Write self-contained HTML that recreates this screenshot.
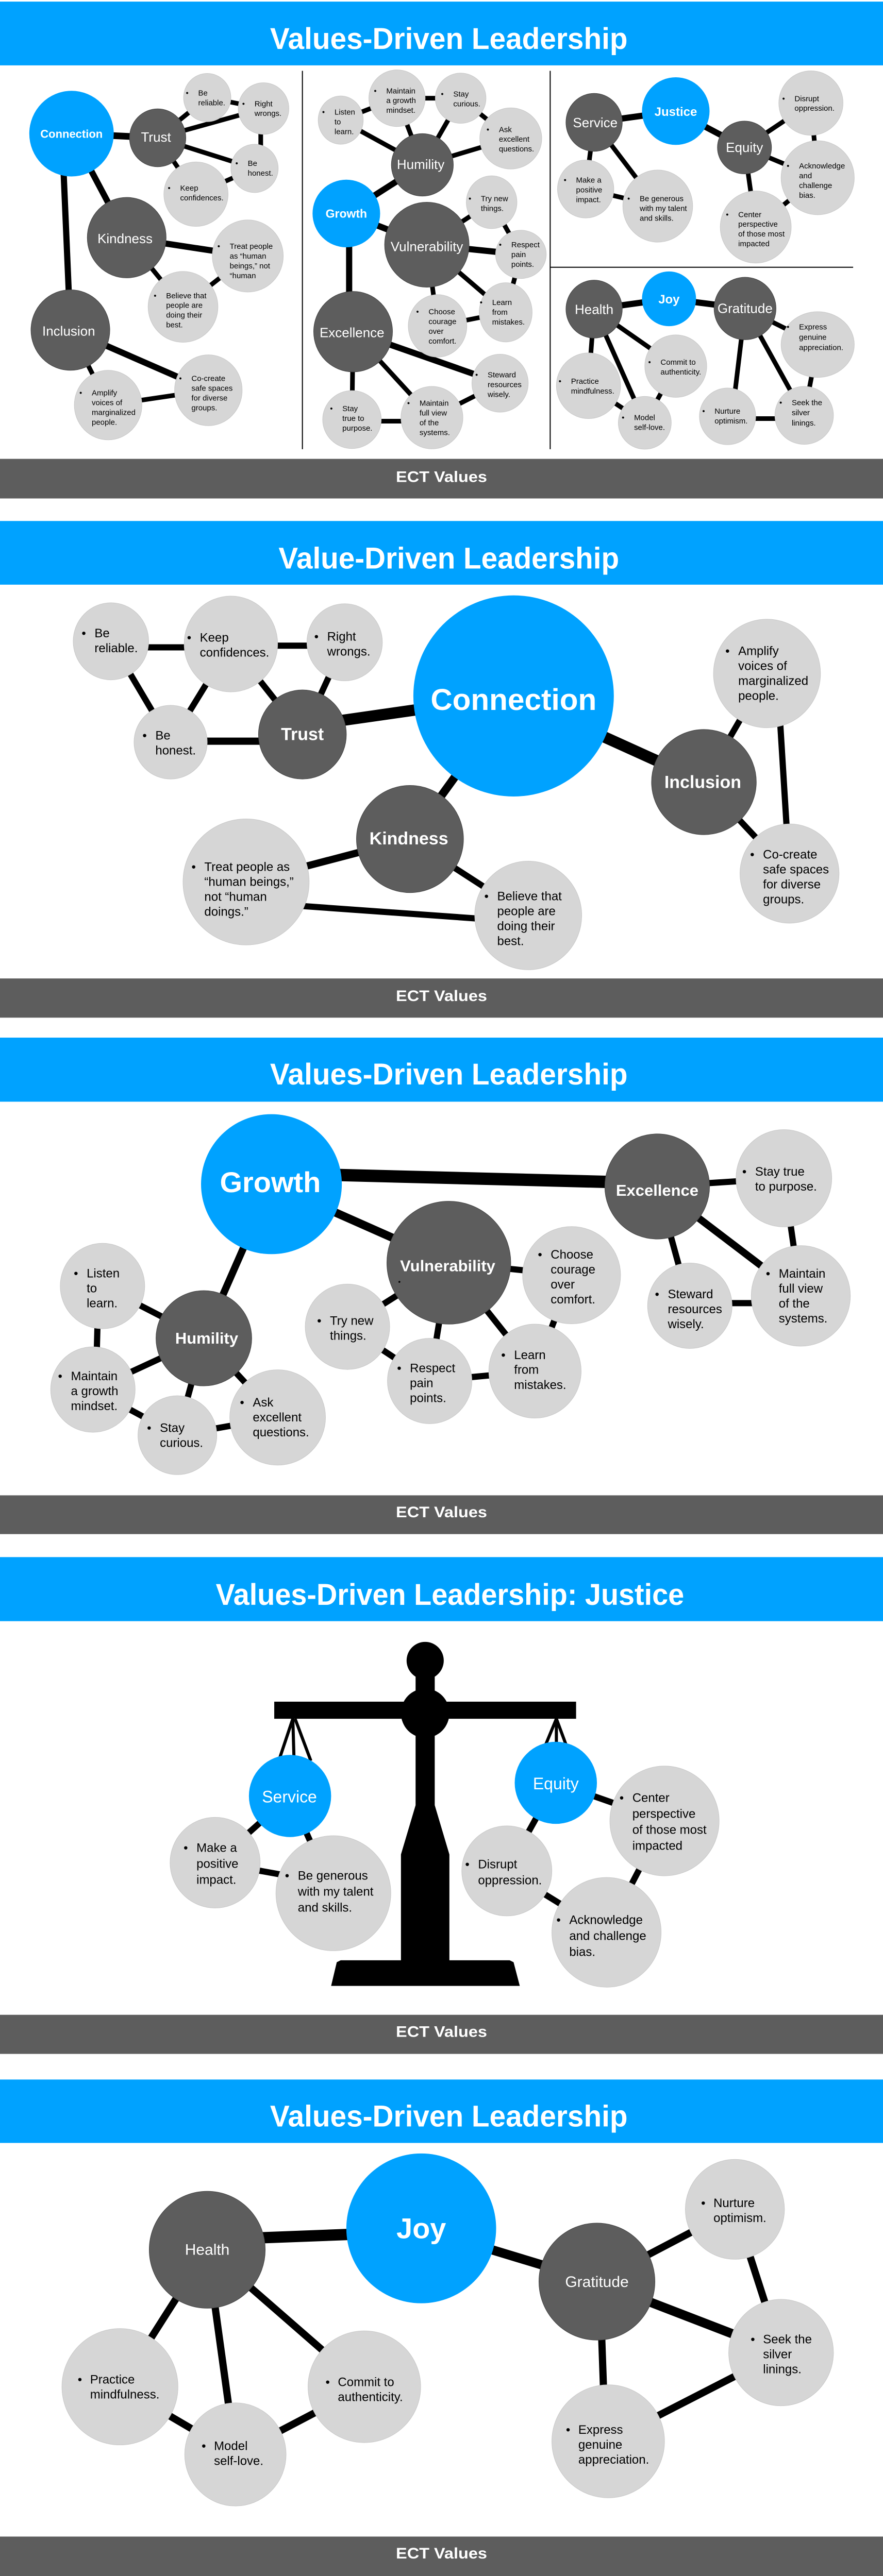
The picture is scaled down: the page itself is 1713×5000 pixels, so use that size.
<!DOCTYPE html>
<html><head><meta charset="utf-8"><style>
html,body{margin:0;padding:0;background:#fff}
body{width:1713px;height:5000px;position:relative;overflow:hidden;font-family:"Liberation Sans",Arial,sans-serif}
svg.p{position:absolute;left:0;width:1713px}
.l{fill:#d6d6d6;stroke:#c8c8c8;stroke-width:1;vector-effect:non-scaling-stroke}
.d{fill:#5d5d5d;stroke:#444;stroke-width:1;vector-effect:non-scaling-stroke}
.b{fill:#00a2ff}
.k line{stroke:#000;vector-effect:non-scaling-stroke}
text{font-family:"Liberation Sans",Arial,sans-serif}
.t{fill:#000}
.w{fill:#fff;text-anchor:middle}
.h{fill:#fff;font-weight:bold;text-anchor:middle}
</style></head><body>

<!-- PANEL 1 -->
<svg class="p" style="top:0;height:980px" viewBox="0 0 1568 1568" preserveAspectRatio="none">
<rect x="0" y="5" width="1568" height="198" fill="#00a2ff"/>
<g transform="translate(797,152) scale(0.915,1.6)"><text class="h" font-size="58" textLength="694" lengthAdjust="spacingAndGlyphs" x="0" y="0">Values-Driven Leadership</text></g>
<g class="k"><line x1="537" y1="220" x2="537" y2="1395" stroke-width="2"/><line x1="977" y1="220" x2="977" y2="1395" stroke-width="2"/><line x1="977" y1="830" x2="1515" y2="830" stroke-width="2"/></g>
<g class="k" stroke-width="9">
<line x1="127" y1="415" x2="280" y2="428" stroke-width="13"/>
<line x1="280" y1="428" x2="368" y2="303"/><line x1="280" y1="428" x2="468" y2="337"/><line x1="280" y1="428" x2="452" y2="523"/><line x1="280" y1="428" x2="348" y2="603"/>
<line x1="368" y1="303" x2="468" y2="337"/><line x1="463" y1="337" x2="463" y2="523"/><line x1="452" y1="523" x2="348" y2="603"/>
<line x1="127" y1="415" x2="225" y2="738" stroke-width="12"/><line x1="110" y1="415" x2="125" y2="1025" stroke-width="12"/>
<line x1="225" y1="738" x2="440" y2="795" stroke-width="12"/><line x1="225" y1="738" x2="325" y2="953"/><line x1="440" y1="795" x2="325" y2="953"/>
<line x1="125" y1="1025" x2="370" y2="1212" stroke-width="12"/><line x1="125" y1="1025" x2="192" y2="1258"/><line x1="192" y1="1258" x2="370" y2="1212"/>
<line x1="605" y1="373" x2="750" y2="512"/><line x1="705" y1="305" x2="750" y2="512"/><line x1="818" y1="305" x2="750" y2="512"/><line x1="907" y1="430" x2="750" y2="512"/>
<line x1="605" y1="373" x2="705" y2="305"/><line x1="705" y1="305" x2="818" y2="305"/><line x1="818" y1="305" x2="907" y2="430"/>
<line x1="750" y1="512" x2="615" y2="663" stroke-width="12"/><line x1="615" y1="663" x2="758" y2="760" stroke-width="12"/><line x1="620" y1="663" x2="620" y2="1030" stroke-width="12"/>
<line x1="758" y1="760" x2="873" y2="628"/><line x1="758" y1="760" x2="925" y2="790" stroke-width="12"/><line x1="758" y1="760" x2="898" y2="970"/><line x1="758" y1="760" x2="777" y2="1012"/>
<line x1="873" y1="628" x2="925" y2="790"/><line x1="925" y1="790" x2="898" y2="970"/><line x1="898" y1="970" x2="777" y2="1012"/>
<line x1="627" y1="1030" x2="888" y2="1190" stroke-width="12"/><line x1="627" y1="1030" x2="767" y2="1297"/><line x1="627" y1="1030" x2="625" y2="1303"/>
<line x1="625" y1="1308" x2="767" y2="1308"/><line x1="767" y1="1297" x2="888" y2="1190"/>
<line x1="1055" y1="380" x2="1200" y2="345" stroke-width="12"/><line x1="1200" y1="345" x2="1322" y2="458" stroke-width="12"/>
<line x1="1322" y1="458" x2="1440" y2="320"/><line x1="1322" y1="458" x2="1452" y2="552"/><line x1="1322" y1="458" x2="1342" y2="705"/>
<line x1="1440" y1="320" x2="1452" y2="552"/><line x1="1452" y1="552" x2="1342" y2="705"/>
<line x1="1055" y1="380" x2="1040" y2="587"/><line x1="1055" y1="380" x2="1168" y2="640"/><line x1="1040" y1="587" x2="1168" y2="640"/>
<line x1="1055" y1="960" x2="1188" y2="928" stroke-width="12"/><line x1="1188" y1="928" x2="1323" y2="958" stroke-width="12"/>
<line x1="1055" y1="960" x2="1200" y2="1137"/><line x1="1055" y1="960" x2="1045" y2="1198"/><line x1="1055" y1="960" x2="1145" y2="1313"/>
<line x1="1200" y1="1137" x2="1145" y2="1313"/><line x1="1045" y1="1198" x2="1145" y2="1313"/>
<line x1="1323" y1="958" x2="1452" y2="1070"/><line x1="1323" y1="958" x2="1300" y2="1293"/><line x1="1323" y1="958" x2="1428" y2="1290"/>
<line x1="1292" y1="1300" x2="1428" y2="1300"/><line x1="1452" y1="1070" x2="1428" y2="1290"/>
</g>
<ellipse class="b" cx="127" cy="415" rx="75" ry="133"/><ellipse class="d" cx="280" cy="428" rx="50" ry="90"/>
<ellipse class="l" cx="368" cy="303" rx="42" ry="75"/><ellipse class="l" cx="468" cy="337" rx="45" ry="80"/><ellipse class="l" cx="452" cy="523" rx="42" ry="75"/><ellipse class="l" cx="348" cy="603" rx="57" ry="100"/>
<ellipse class="d" cx="225" cy="738" rx="70" ry="125"/><ellipse class="l" cx="440" cy="795" rx="63" ry="112"/><ellipse class="l" cx="325" cy="953" rx="62" ry="110"/>
<ellipse class="d" cx="125" cy="1025" rx="70" ry="125"/><ellipse class="l" cx="370" cy="1212" rx="60" ry="110"/><ellipse class="l" cx="192" cy="1258" rx="60" ry="108"/>
<ellipse class="l" cx="605" cy="373" rx="40" ry="75"/><ellipse class="l" cx="705" cy="305" rx="50" ry="88"/><ellipse class="l" cx="818" cy="305" rx="45" ry="78"/><ellipse class="l" cx="907" cy="430" rx="55" ry="95"/>
<ellipse class="d" cx="750" cy="512" rx="55" ry="97"/><ellipse class="b" cx="615" cy="663" rx="60" ry="105"/><ellipse class="l" cx="873" cy="628" rx="45" ry="82"/>
<ellipse class="d" cx="758" cy="760" rx="75" ry="132"/><ellipse class="l" cx="925" cy="790" rx="45" ry="75"/><ellipse class="l" cx="898" cy="970" rx="47" ry="92"/><ellipse class="l" cx="777" cy="1012" rx="52" ry="97"/>
<ellipse class="d" cx="627" cy="1030" rx="70" ry="125"/><ellipse class="l" cx="888" cy="1190" rx="50" ry="90"/><ellipse class="l" cx="767" cy="1297" rx="55" ry="97"/><ellipse class="l" cx="625" cy="1303" rx="52" ry="90"/>
<ellipse class="d" cx="1055" cy="380" rx="50" ry="90"/><ellipse class="b" cx="1200" cy="345" rx="60" ry="105"/><ellipse class="l" cx="1440" cy="320" rx="57" ry="100"/>
<ellipse class="d" cx="1322" cy="458" rx="48" ry="82"/><ellipse class="l" cx="1452" cy="552" rx="65" ry="115"/><ellipse class="l" cx="1342" cy="705" rx="63" ry="112"/>
<ellipse class="l" cx="1040" cy="587" rx="50" ry="90"/><ellipse class="l" cx="1168" cy="640" rx="62" ry="112"/>
<ellipse class="d" cx="1055" cy="960" rx="50" ry="90"/><ellipse class="b" cx="1188" cy="928" rx="48" ry="85"/><ellipse class="d" cx="1323" cy="958" rx="55" ry="97"/>
<ellipse class="l" cx="1452" cy="1070" rx="65" ry="102"/><ellipse class="l" cx="1200" cy="1137" rx="55" ry="97"/><ellipse class="l" cx="1045" cy="1198" rx="57" ry="102"/>
<ellipse class="l" cx="1145" cy="1313" rx="47" ry="82"/><ellipse class="l" cx="1292" cy="1293" rx="50" ry="88"/><ellipse class="l" cx="1428" cy="1290" rx="52" ry="90"/>
<!-- labels -->
<g transform="translate(127,428) scale(0.915,1.6)"><text class="h" font-size="22">Connection</text></g>
<g transform="translate(277,440) scale(0.915,1.6)"><text class="w" font-size="26">Trust</text></g>
<g transform="translate(222,755) scale(0.915,1.6)"><text class="w" font-size="26">Kindness</text></g>
<g transform="translate(122,1042) scale(0.915,1.6)"><text class="w" font-size="26">Inclusion</text></g>
<g transform="translate(747,525) scale(0.915,1.6)"><text class="w" font-size="26">Humility</text></g>
<g transform="translate(615,676) scale(0.915,1.6)"><text class="h" font-size="23">Growth</text></g>
<g transform="translate(758,780) scale(0.915,1.6)"><text class="w" font-size="26">Vulnerability</text></g>
<g transform="translate(625,1047) scale(0.915,1.6)"><text class="w" font-size="26">Excellence</text></g>
<g transform="translate(1057,395) scale(0.915,1.6)"><text class="w" font-size="26">Service</text></g>
<g transform="translate(1200,360) scale(0.915,1.6)"><text class="h" font-size="24">Justice</text></g>
<g transform="translate(1322,472) scale(0.915,1.6)"><text class="w" font-size="26">Equity</text></g>
<g transform="translate(1055,975) scale(0.915,1.6)"><text class="w" font-size="26">Health</text></g>
<g transform="translate(1188,942) scale(0.915,1.6)"><text class="h" font-size="24">Joy</text></g>
<g transform="translate(1323,972) scale(0.915,1.6)"><text class="w" font-size="26">Gratitude</text></g>
<!-- bullets -->
<g font-size="15" class="t">
<g transform="translate(330,297) scale(0.915,1.6)"><text><tspan x="0" y="0">•</tspan><tspan x="24" y="0">Be</tspan><tspan x="24" dy="19">reliable.</tspan></text></g>
<g transform="translate(430,330) scale(0.915,1.6)"><text><tspan x="0" y="0">•</tspan><tspan x="24" y="0">Right</tspan><tspan x="24" dy="19">wrongs.</tspan></text></g>
<g transform="translate(418,515) scale(0.915,1.6)"><text><tspan x="0" y="0">•</tspan><tspan x="24" y="0">Be</tspan><tspan x="24" dy="19">honest.</tspan></text></g>
<g transform="translate(298,592) scale(0.915,1.6)"><text><tspan x="0" y="0">•</tspan><tspan x="24" y="0">Keep</tspan><tspan x="24" dy="19">confidences.</tspan></text></g>
<g transform="translate(386,773) scale(0.915,1.6)"><text><tspan x="0" y="0">•</tspan><tspan x="24" y="0">Treat people</tspan><tspan x="24" dy="19">as “human</tspan><tspan x="24" dy="19">beings,” not</tspan><tspan x="24" dy="19">“human</tspan></text></g>
<g transform="translate(273,926) scale(0.915,1.6)"><text><tspan x="0" y="0">•</tspan><tspan x="24" y="0">Believe that</tspan><tspan x="24" dy="19">people are</tspan><tspan x="24" dy="19">doing their</tspan><tspan x="24" dy="19">best.</tspan></text></g>
<g transform="translate(318,1183) scale(0.915,1.6)"><text><tspan x="0" y="0">•</tspan><tspan x="24" y="0">Co-create</tspan><tspan x="24" dy="19">safe spaces</tspan><tspan x="24" dy="19">for diverse</tspan><tspan x="24" dy="19">groups.</tspan></text></g>
<g transform="translate(141,1228) scale(0.915,1.6)"><text><tspan x="0" y="0">•</tspan><tspan x="24" y="0">Amplify</tspan><tspan x="24" dy="19">voices of</tspan><tspan x="24" dy="19">marginalized</tspan><tspan x="24" dy="19">people.</tspan></text></g>
<g transform="translate(572,356) scale(0.915,1.6)"><text><tspan x="0" y="0">•</tspan><tspan x="24" y="0">Listen</tspan><tspan x="24" dy="19">to</tspan><tspan x="24" dy="19">learn.</tspan></text></g>
<g transform="translate(664,290) scale(0.915,1.6)"><text><tspan x="0" y="0">•</tspan><tspan x="24" y="0">Maintain</tspan><tspan x="24" dy="19">a growth</tspan><tspan x="24" dy="19">mindset.</tspan></text></g>
<g transform="translate(783,300) scale(0.915,1.6)"><text><tspan x="0" y="0">•</tspan><tspan x="24" y="0">Stay</tspan><tspan x="24" dy="19">curious.</tspan></text></g>
<g transform="translate(864,410) scale(0.915,1.6)"><text><tspan x="0" y="0">•</tspan><tspan x="24" y="0">Ask</tspan><tspan x="24" dy="19">excellent</tspan><tspan x="24" dy="19">questions.</tspan></text></g>
<g transform="translate(832,625) scale(0.915,1.6)"><text><tspan x="0" y="0">•</tspan><tspan x="24" y="0">Try new</tspan><tspan x="24" dy="19">things.</tspan></text></g>
<g transform="translate(886,768) scale(0.915,1.6)"><text><tspan x="0" y="0">•</tspan><tspan x="24" y="0">Respect</tspan><tspan x="24" dy="19">pain</tspan><tspan x="24" dy="19">points.</tspan></text></g>
<g transform="translate(852,947) scale(0.915,1.6)"><text><tspan x="0" y="0">•</tspan><tspan x="24" y="0">Learn</tspan><tspan x="24" dy="19">from</tspan><tspan x="24" dy="19">mistakes.</tspan></text></g>
<g transform="translate(739,976) scale(0.915,1.6)"><text><tspan x="0" y="0">•</tspan><tspan x="24" y="0">Choose</tspan><tspan x="24" dy="19">courage</tspan><tspan x="24" dy="19">over</tspan><tspan x="24" dy="19">comfort.</tspan></text></g>
<g transform="translate(844,1172) scale(0.915,1.6)"><text><tspan x="0" y="0">•</tspan><tspan x="24" y="0">Steward</tspan><tspan x="24" dy="19">resources</tspan><tspan x="24" dy="19">wisely.</tspan></text></g>
<g transform="translate(723,1260) scale(0.915,1.6)"><text><tspan x="0" y="0">•</tspan><tspan x="24" y="0">Maintain</tspan><tspan x="24" dy="19">full view</tspan><tspan x="24" dy="19">of the</tspan><tspan x="24" dy="19">systems.</tspan></text></g>
<g transform="translate(586,1277) scale(0.915,1.6)"><text><tspan x="0" y="0">•</tspan><tspan x="24" y="0">Stay</tspan><tspan x="24" dy="19">true to</tspan><tspan x="24" dy="19">purpose.</tspan></text></g>
<g transform="translate(1389,314) scale(0.915,1.6)"><text><tspan x="0" y="0">•</tspan><tspan x="24" y="0">Disrupt</tspan><tspan x="24" dy="19">oppression.</tspan></text></g>
<g transform="translate(1397,523) scale(0.915,1.6)"><text><tspan x="0" y="0">•</tspan><tspan x="24" y="0">Acknowledge</tspan><tspan x="24" dy="19">and</tspan><tspan x="24" dy="19">challenge</tspan><tspan x="24" dy="19">bias.</tspan></text></g>
<g transform="translate(1289,674) scale(0.915,1.6)"><text><tspan x="0" y="0">•</tspan><tspan x="24" y="0">Center</tspan><tspan x="24" dy="19">perspective</tspan><tspan x="24" dy="19">of those most</tspan><tspan x="24" dy="19">impacted</tspan></text></g>
<g transform="translate(1001,567) scale(0.915,1.6)"><text><tspan x="0" y="0">•</tspan><tspan x="24" y="0">Make a</tspan><tspan x="24" dy="19">positive</tspan><tspan x="24" dy="19">impact.</tspan></text></g>
<g transform="translate(1114,625) scale(0.915,1.6)"><text><tspan x="0" y="0">•</tspan><tspan x="24" y="0">Be generous</tspan><tspan x="24" dy="19">with my talent</tspan><tspan x="24" dy="19">and skills.</tspan></text></g>
<g transform="translate(1397,1023) scale(0.915,1.6)"><text><tspan x="0" y="0">•</tspan><tspan x="24" y="0">Express</tspan><tspan x="24" dy="20">genuine</tspan><tspan x="24" dy="20">appreciation.</tspan></text></g>
<g transform="translate(1151,1133) scale(0.915,1.6)"><text><tspan x="0" y="0">•</tspan><tspan x="24" y="0">Commit to</tspan><tspan x="24" dy="19">authenticity.</tspan></text></g>
<g transform="translate(992,1192) scale(0.915,1.6)"><text><tspan x="0" y="0">•</tspan><tspan x="24" y="0">Practice</tspan><tspan x="24" dy="19">mindfulness.</tspan></text></g>
<g transform="translate(1104,1305) scale(0.915,1.6)"><text><tspan x="0" y="0">•</tspan><tspan x="24" y="0">Model</tspan><tspan x="24" dy="19">self-love.</tspan></text></g>
<g transform="translate(1247,1285) scale(0.915,1.6)"><text><tspan x="0" y="0">•</tspan><tspan x="24" y="0">Nurture</tspan><tspan x="24" dy="19">optimism.</tspan></text></g>
<g transform="translate(1384,1258) scale(0.915,1.6)"><text><tspan x="0" y="0">•</tspan><tspan x="24" y="0">Seek the</tspan><tspan x="24" dy="20">silver</tspan><tspan x="24" dy="20">linings.</tspan></text></g>
</g>
<rect x="0" y="1425" width="1568" height="123" fill="#5d5d5d"/>
<g transform="translate(784,1497) scale(0.915,1.6)"><text class="h" font-size="30" textLength="177" lengthAdjust="spacingAndGlyphs" x="0" y="0">ECT Values</text></g>
</svg>

<!-- PANEL 2 -->
<svg class="p" style="top:980px;height:1020px" viewBox="0 0 1568 1568" preserveAspectRatio="none">
<rect x="0" y="48" width="1568" height="190" fill="#00a2ff"/>
<g transform="translate(797,190) scale(0.915,1.537)"><text class="h" font-size="58" textLength="661" lengthAdjust="spacingAndGlyphs" x="0" y="0">Value-Driven Leadership</text></g>
<g class="k" stroke-width="12">
<line x1="197" y1="425" x2="410" y2="425"/><line x1="410" y1="420" x2="612" y2="420"/>
<line x1="197" y1="407" x2="303" y2="708"/><line x1="410" y1="415" x2="303" y2="708"/>
<line x1="410" y1="415" x2="537" y2="685"/><line x1="612" y1="410" x2="537" y2="685"/><line x1="303" y1="705" x2="537" y2="705" stroke-width="14"/>
<line x1="537" y1="660" x2="912" y2="570" stroke-width="22"/><line x1="912" y1="570" x2="1250" y2="827" stroke-width="22"/>
<line x1="912" y1="570" x2="728" y2="997" stroke-width="16"/>
<line x1="1250" y1="827" x2="1362" y2="503"/><line x1="1250" y1="827" x2="1402" y2="1100"/><line x1="1380" y1="503" x2="1402" y2="1100"/>
<line x1="728" y1="997" x2="437" y2="1125" stroke-width="14"/><line x1="728" y1="997" x2="938" y2="1225"/><line x1="437" y1="1185" x2="938" y2="1245"/>
</g>
<ellipse class="l" cx="197" cy="407" rx="67" ry="115"/><ellipse class="l" cx="410" cy="415" rx="83" ry="143"/><ellipse class="l" cx="612" cy="410" rx="67" ry="115"/>
<ellipse class="l" cx="303" cy="708" rx="65" ry="110"/><ellipse class="d" cx="537" cy="685" rx="78" ry="133"/><ellipse class="b" cx="912" cy="570" rx="178" ry="300"/>
<ellipse class="d" cx="1250" cy="827" rx="93" ry="157"/><ellipse class="l" cx="1362" cy="503" rx="95" ry="162"/><ellipse class="l" cx="1402" cy="1100" rx="88" ry="148"/>
<ellipse class="d" cx="728" cy="997" rx="95" ry="160"/><ellipse class="l" cx="437" cy="1125" rx="112" ry="188"/><ellipse class="l" cx="938" cy="1225" rx="95" ry="162"/>
<g transform="translate(912,612) scale(0.915,1.537)"><text class="h" font-size="58" textLength="322" lengthAdjust="spacingAndGlyphs" x="0" y="0">Connection</text></g>
<g transform="translate(537,702) scale(0.915,1.537)"><text class="h" font-size="34">Trust</text></g>
<g transform="translate(726,1013) scale(0.915,1.537)"><text class="h" font-size="34">Kindness</text></g>
<g transform="translate(1248,845) scale(0.915,1.537)"><text class="h" font-size="34">Inclusion</text></g>
<g font-size="24" class="t">
<g transform="translate(145,395) scale(0.915,1.537)"><text><tspan x="0" y="0">•</tspan><tspan x="25" y="0">Be</tspan><tspan x="25" dy="29">reliable.</tspan></text></g>
<g transform="translate(332,408) scale(0.915,1.537)"><text><tspan x="0" y="0">•</tspan><tspan x="25" y="0">Keep</tspan><tspan x="25" dy="29">confidences.</tspan></text></g>
<g transform="translate(558,405) scale(0.915,1.537)"><text><tspan x="0" y="0">•</tspan><tspan x="25" y="0">Right</tspan><tspan x="25" dy="29">wrongs.</tspan></text></g>
<g transform="translate(253,700) scale(0.915,1.537)"><text><tspan x="0" y="0">•</tspan><tspan x="25" y="0">Be</tspan><tspan x="25" dy="29">honest.</tspan></text></g>
<g transform="translate(1288,448) scale(0.915,1.537)"><text><tspan x="0" y="0">•</tspan><tspan x="25" y="0">Amplify</tspan><tspan x="25" dy="29">voices of</tspan><tspan x="25" dy="29">marginalized</tspan><tspan x="25" dy="29">people.</tspan></text></g>
<g transform="translate(1332,1055) scale(0.915,1.537)"><text><tspan x="0" y="0">•</tspan><tspan x="25" y="0">Co-create</tspan><tspan x="25" dy="29">safe spaces</tspan><tspan x="25" dy="29">for diverse</tspan><tspan x="25" dy="29">groups.</tspan></text></g>
<g transform="translate(340,1092) scale(0.915,1.537)"><text><tspan x="0" y="0">•</tspan><tspan x="25" y="0">Treat people as</tspan><tspan x="25" dy="29">“human beings,”</tspan><tspan x="25" dy="29">not “human</tspan><tspan x="25" dy="29">doings.”</tspan></text></g>
<g transform="translate(860,1180) scale(0.915,1.537)"><text><tspan x="0" y="0">•</tspan><tspan x="25" y="0">Believe that</tspan><tspan x="25" dy="29">people are</tspan><tspan x="25" dy="29">doing their</tspan><tspan x="25" dy="29">best.</tspan></text></g>
</g>
<rect x="0" y="1413" width="1568" height="117" fill="#5d5d5d"/>
<g transform="translate(784,1480) scale(0.915,1.537)"><text class="h" font-size="30" textLength="177" lengthAdjust="spacingAndGlyphs" x="0" y="0">ECT Values</text></g>
</svg>

<!-- PANEL 3 -->
<svg class="p" style="top:2000px;height:1000px" viewBox="0 0 1568 1568" preserveAspectRatio="none">
<rect x="0" y="22" width="1568" height="195" fill="#00a2ff"/>
<g transform="translate(797,165) scale(0.915,1.568)"><text class="h" font-size="58" textLength="694" lengthAdjust="spacingAndGlyphs" x="0" y="0">Values-Driven Leadership</text></g>
<g class="k" stroke-width="12">
<line x1="600" y1="440" x2="1167" y2="465" stroke-width="24"/>
<line x1="1167" y1="475" x2="1392" y2="450"/><line x1="1167" y1="475" x2="1422" y2="808" stroke-width="14"/><line x1="1167" y1="475" x2="1225" y2="838"/>
<line x1="1392" y1="450" x2="1422" y2="808"/><line x1="1225" y1="830" x2="1422" y2="830"/>
<line x1="482" y1="468" x2="797" y2="707" stroke-width="16"/>
<line x1="797" y1="707" x2="1015" y2="745"/><line x1="797" y1="707" x2="950" y2="1037"/><line x1="797" y1="707" x2="763" y2="1067"/><line x1="797" y1="707" x2="617" y2="902"/>
<line x1="1015" y1="745" x2="950" y2="1037"/><line x1="950" y1="1037" x2="763" y2="1067"/><line x1="617" y1="902" x2="763" y2="1067"/>
<line x1="482" y1="468" x2="362" y2="937" stroke-width="14"/>
<line x1="362" y1="937" x2="182" y2="778"/><line x1="362" y1="937" x2="165" y2="1093"/><line x1="362" y1="937" x2="315" y2="1232"/><line x1="362" y1="937" x2="493" y2="1178"/>
<line x1="175" y1="778" x2="170" y2="1093"/><line x1="165" y1="1093" x2="315" y2="1232"/><line x1="315" y1="1232" x2="493" y2="1178"/>
</g>
<ellipse class="b" cx="482" cy="468" rx="125" ry="213"/><ellipse class="d" cx="1167" cy="475" rx="93" ry="160"/>
<ellipse class="l" cx="1392" cy="450" rx="85" ry="148"/><ellipse class="l" cx="1422" cy="808" rx="88" ry="153"/><ellipse class="l" cx="1225" cy="838" rx="75" ry="130"/>
<ellipse class="d" cx="797" cy="707" rx="110" ry="187"/><ellipse class="l" cx="1015" cy="745" rx="87" ry="148"/><ellipse class="l" cx="950" cy="1037" rx="82" ry="143"/>
<ellipse class="l" cx="763" cy="1067" rx="75" ry="130"/><ellipse class="l" cx="617" cy="902" rx="75" ry="130"/>
<ellipse class="d" cx="362" cy="937" rx="85" ry="145"/><ellipse class="l" cx="182" cy="778" rx="75" ry="130"/><ellipse class="l" cx="165" cy="1093" rx="75" ry="130"/>
<ellipse class="l" cx="315" cy="1232" rx="70" ry="120"/><ellipse class="l" cx="493" cy="1178" rx="85" ry="145"/>
<g transform="translate(480,492) scale(0.915,1.568)"><text class="h" font-size="56">Growth</text></g>
<g transform="translate(795,733) scale(0.915,1.568)"><text class="h" font-size="31">Vulnerability</text></g>
<g transform="translate(707,772) scale(0.915,1.568)"><text class="t" font-size="14">•</text></g>
<g transform="translate(1167,503) scale(0.915,1.568)"><text class="h" font-size="31">Excellence</text></g>
<g transform="translate(367,953) scale(0.915,1.568)"><text class="h" font-size="31">Humility</text></g>
<g font-size="24" class="t">
<g transform="translate(131,752) scale(0.915,1.568)"><text><tspan x="0" y="0">•</tspan><tspan x="25" y="0">Listen</tspan><tspan x="25" dy="29">to</tspan><tspan x="25" dy="29">learn.</tspan></text></g>
<g transform="translate(103,1065) scale(0.915,1.568)"><text><tspan x="0" y="0">•</tspan><tspan x="25" y="0">Maintain</tspan><tspan x="25" dy="29">a growth</tspan><tspan x="25" dy="29">mindset.</tspan></text></g>
<g transform="translate(261,1222) scale(0.915,1.568)"><text><tspan x="0" y="0">•</tspan><tspan x="25" y="0">Stay</tspan><tspan x="25" dy="29">curious.</tspan></text></g>
<g transform="translate(426,1145) scale(0.915,1.568)"><text><tspan x="0" y="0">•</tspan><tspan x="25" y="0">Ask</tspan><tspan x="25" dy="29">excellent</tspan><tspan x="25" dy="29">questions.</tspan></text></g>
<g transform="translate(563,896) scale(0.915,1.568)"><text><tspan x="0" y="0">•</tspan><tspan x="25" y="0">Try new</tspan><tspan x="25" dy="29">things.</tspan></text></g>
<g transform="translate(705,1040) scale(0.915,1.568)"><text><tspan x="0" y="0">•</tspan><tspan x="25" y="0">Respect</tspan><tspan x="25" dy="29">pain</tspan><tspan x="25" dy="29">points.</tspan></text></g>
<g transform="translate(890,1000) scale(0.915,1.568)"><text><tspan x="0" y="0">•</tspan><tspan x="25" y="0">Learn</tspan><tspan x="25" dy="29">from</tspan><tspan x="25" dy="29">mistakes.</tspan></text></g>
<g transform="translate(955,695) scale(0.915,1.568)"><text><tspan x="0" y="0">•</tspan><tspan x="25" y="0">Choose</tspan><tspan x="25" dy="29">courage</tspan><tspan x="25" dy="29">over</tspan><tspan x="25" dy="29">comfort.</tspan></text></g>
<g transform="translate(1318,442) scale(0.915,1.568)"><text><tspan x="0" y="0">•</tspan><tspan x="25" y="0">Stay true</tspan><tspan x="25" dy="29">to purpose.</tspan></text></g>
<g transform="translate(1360,753) scale(0.915,1.568)"><text><tspan x="0" y="0">•</tspan><tspan x="25" y="0">Maintain</tspan><tspan x="25" dy="29">full view</tspan><tspan x="25" dy="29">of the</tspan><tspan x="25" dy="29">systems.</tspan></text></g>
<g transform="translate(1163,815) scale(0.915,1.568)"><text><tspan x="0" y="0">•</tspan><tspan x="25" y="0">Steward</tspan><tspan x="25" dy="29">resources</tspan><tspan x="25" dy="29">wisely.</tspan></text></g>
</g>
<rect x="0" y="1415" width="1568" height="118" fill="#5d5d5d"/>
<g transform="translate(784,1482) scale(0.915,1.568)"><text class="h" font-size="30" textLength="177" lengthAdjust="spacingAndGlyphs" x="0" y="0">ECT Values</text></g>
</svg>

<!-- PANEL 4 -->
<svg class="p" style="top:3000px;height:1000px" viewBox="0 0 1568 1568" preserveAspectRatio="none">
<rect x="0" y="35" width="1568" height="195" fill="#00a2ff"/>
<g transform="translate(799,180) scale(0.915,1.568)"><text class="h" font-size="58" textLength="909" lengthAdjust="spacingAndGlyphs" x="0" y="0">Values-Driven Leadership: Justice</text></g>
<ellipse cx="755" cy="350" rx="33" ry="57" fill="#000"/>
<rect x="738" y="390" width="34" height="60" fill="#000"/>
<ellipse cx="755" cy="510" rx="43" ry="75" fill="#000"/>
<rect x="487" y="475" width="536" height="52" fill="#000"/>
<polygon points="738,527 772,527 772,790 798,940 798,1265 712,1265 712,940 738,790" fill="#000"/>
<polygon points="605,1262 905,1262 912,1268 923,1340 588,1340 598,1268" fill="#000"/>
<g class="k" stroke-width="6">
<line x1="520" y1="527" x2="497" y2="645"/><line x1="520" y1="527" x2="522" y2="645"/><line x1="524" y1="527" x2="552" y2="655"/>
<line x1="988" y1="527" x2="968" y2="610"/><line x1="988" y1="527" x2="988" y2="610"/><line x1="988" y1="527" x2="1006" y2="610"/>
</g>
<g class="k" stroke-width="12">
<line x1="515" y1="762" x2="382" y2="965"/><line x1="515" y1="762" x2="592" y2="1058"/><line x1="382" y1="965" x2="592" y2="1030"/>
<line x1="987" y1="722" x2="900" y2="990"/><line x1="987" y1="722" x2="1180" y2="838"/><line x1="900" y1="990" x2="1077" y2="1177"/><line x1="1180" y1="838" x2="1077" y2="1177"/>
</g>
<ellipse class="b" cx="515" cy="762" rx="73" ry="125"/><ellipse class="b" cx="987" cy="722" rx="73" ry="125"/>
<ellipse class="l" cx="382" cy="965" rx="80" ry="138"/><ellipse class="l" cx="592" cy="1058" rx="102" ry="175"/>
<ellipse class="l" cx="900" cy="990" rx="80" ry="137"/><ellipse class="l" cx="1180" cy="838" rx="97" ry="167"/><ellipse class="l" cx="1077" cy="1177" rx="97" ry="167"/>
<g transform="translate(514,782) scale(0.915,1.568)"><text class="w" font-size="32">Service</text></g>
<g transform="translate(987,742) scale(0.915,1.568)"><text class="w" font-size="32">Equity</text></g>
<g font-size="24" class="t">
<g transform="translate(326,932) scale(0.915,1.568)"><text><tspan x="0" y="0">•</tspan><tspan x="25" y="0">Make a</tspan><tspan x="25" dy="31">positive</tspan><tspan x="25" dy="31">impact.</tspan></text></g>
<g transform="translate(506,1017) scale(0.915,1.568)"><text><tspan x="0" y="0">•</tspan><tspan x="25" y="0">Be generous</tspan><tspan x="25" dy="31">with my talent</tspan><tspan x="25" dy="31">and skills.</tspan></text></g>
<g transform="translate(826,982) scale(0.915,1.568)"><text><tspan x="0" y="0">•</tspan><tspan x="25" y="0">Disrupt</tspan><tspan x="25" dy="31">oppression.</tspan></text></g>
<g transform="translate(1100,780) scale(0.915,1.568)"><text><tspan x="0" y="0">•</tspan><tspan x="25" y="0">Center</tspan><tspan x="25" dy="31">perspective</tspan><tspan x="25" dy="31">of those most</tspan><tspan x="25" dy="31">impacted</tspan></text></g>
<g transform="translate(988,1152) scale(0.915,1.568)"><text><tspan x="0" y="0">•</tspan><tspan x="25" y="0">Acknowledge</tspan><tspan x="25" dy="31">and challenge</tspan><tspan x="25" dy="31">bias.</tspan></text></g>
</g>
<rect x="0" y="1428" width="1568" height="119" fill="#5d5d5d"/>
<g transform="translate(784,1495) scale(0.915,1.568)"><text class="h" font-size="30" textLength="177" lengthAdjust="spacingAndGlyphs" x="0" y="0">ECT Values</text></g>
</svg>

<!-- PANEL 5 -->
<svg class="p" style="top:4000px;height:1000px" viewBox="0 0 1568 1568" preserveAspectRatio="none">
<rect x="0" y="57" width="1568" height="193" fill="#00a2ff"/>
<g transform="translate(797,200) scale(0.915,1.568)"><text class="h" font-size="58" textLength="694" lengthAdjust="spacingAndGlyphs" x="0" y="0">Values-Driven Leadership</text></g>
<g class="k" stroke-width="14">
<line x1="368" y1="545" x2="748" y2="520" stroke-width="22"/><line x1="748" y1="510" x2="1060" y2="672" stroke-width="18"/>
<line x1="368" y1="575" x2="213" y2="992"/><line x1="368" y1="575" x2="418" y2="1198"/><line x1="368" y1="575" x2="647" y2="992"/>
<line x1="213" y1="992" x2="418" y2="1198"/><line x1="418" y1="1198" x2="647" y2="992"/>
<line x1="1060" y1="672" x2="1305" y2="452"/><line x1="1060" y1="672" x2="1387" y2="888" stroke-width="18"/><line x1="1065" y1="672" x2="1075" y2="1158"/>
<line x1="1305" y1="452" x2="1387" y2="888"/><line x1="1080" y1="1158" x2="1387" y2="888"/>
</g>
<ellipse class="b" cx="748" cy="510" rx="133" ry="228"/><ellipse class="d" cx="368" cy="575" rx="103" ry="178"/><ellipse class="d" cx="1060" cy="672" rx="103" ry="178"/>
<ellipse class="l" cx="1305" cy="452" rx="88" ry="152"/><ellipse class="l" cx="1387" cy="888" rx="93" ry="162"/><ellipse class="l" cx="1080" cy="1158" rx="100" ry="172"/>
<ellipse class="l" cx="213" cy="992" rx="103" ry="177"/><ellipse class="l" cx="418" cy="1198" rx="90" ry="157"/><ellipse class="l" cx="647" cy="992" rx="100" ry="170"/>
<g transform="translate(748,540) scale(0.915,1.568)"><text class="h" font-size="56">Joy</text></g>
<g transform="translate(368,590) scale(0.915,1.568)"><text class="w" font-size="30">Health</text></g>
<g transform="translate(1060,688) scale(0.915,1.568)"><text class="w" font-size="30">Gratitude</text></g>
<g font-size="24" class="t">
<g transform="translate(1245,445) scale(0.915,1.568)"><text><tspan x="0" y="0">•</tspan><tspan x="24" y="0">Nurture</tspan><tspan x="24" dy="29">optimism.</tspan></text></g>
<g transform="translate(1333,860) scale(0.915,1.568)"><text><tspan x="0" y="0">•</tspan><tspan x="24" y="0">Seek the</tspan><tspan x="24" dy="29">silver</tspan><tspan x="24" dy="29">linings.</tspan></text></g>
<g transform="translate(1005,1135) scale(0.915,1.568)"><text><tspan x="0" y="0">•</tspan><tspan x="24" y="0">Express</tspan><tspan x="24" dy="29">genuine</tspan><tspan x="24" dy="29">appreciation.</tspan></text></g>
<g transform="translate(138,982) scale(0.915,1.568)"><text><tspan x="0" y="0">•</tspan><tspan x="24" y="0">Practice</tspan><tspan x="24" dy="29">mindfulness.</tspan></text></g>
<g transform="translate(358,1185) scale(0.915,1.568)"><text><tspan x="0" y="0">•</tspan><tspan x="24" y="0">Model</tspan><tspan x="24" dy="29">self-love.</tspan></text></g>
<g transform="translate(578,990) scale(0.915,1.568)"><text><tspan x="0" y="0">•</tspan><tspan x="24" y="0">Commit to</tspan><tspan x="24" dy="29">authenticity.</tspan></text></g>
</g>
<rect x="0" y="1448" width="1568" height="120" fill="#5d5d5d"/>
<g transform="translate(784,1515) scale(0.915,1.568)"><text class="h" font-size="30" textLength="177" lengthAdjust="spacingAndGlyphs" x="0" y="0">ECT Values</text></g>
</svg>

</body></html>
